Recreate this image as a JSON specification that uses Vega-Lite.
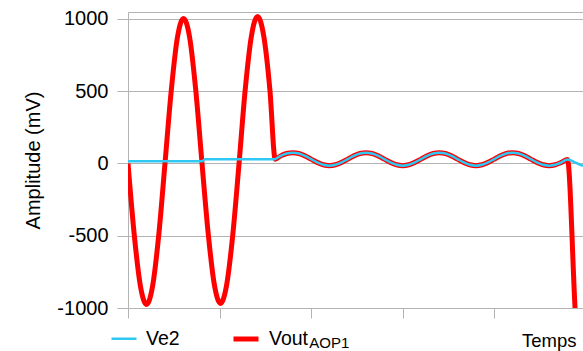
{
  "$schema": "https://vega.github.io/schema/vega-lite/v6.json",
  "width": 455,
  "height": 296,
  "autosize": {"type": "none"},
  "padding": {"left": 128, "top": 12, "right": 0, "bottom": 43},
  "background": "white",
  "config": {"view": {"stroke": null}, "font": "Liberation Sans"},
  "datasets": {
    "sig": [
      {"t": 0, "v": 0, "s": "Vout"}, {"t": 6.74, "v": -488, "s": "Vout"}, {"t": 13.48, "v": -845, "s": "Vout"}, {"t": 20.2, "v": -975, "s": "Vout"}, {"t": 26.95, "v": -845, "s": "Vout"}, {"t": 33.7, "v": -488, "s": "Vout"}, {"t": 40.4, "v": 0, "s": "Vout"}, {"t": 47.2, "v": 501, "s": "Vout"}, {"t": 53.9, "v": 869, "s": "Vout"}, {"t": 60.6, "v": 1003, "s": "Vout"}, {"t": 67.4, "v": 869, "s": "Vout"}, {"t": 74.1, "v": 501, "s": "Vout"}, {"t": 80.85, "v": 0, "s": "Vout"}, {"t": 87.6, "v": -484, "s": "Vout"}, {"t": 94.3, "v": -838, "s": "Vout"}, {"t": 101.1, "v": -968, "s": "Vout"}, {"t": 107.8, "v": -838, "s": "Vout"}, {"t": 114.6, "v": -484, "s": "Vout"}, {"t": 121.3, "v": 0, "s": "Vout"}, {"t": 128, "v": 508, "s": "Vout"}, {"t": 134.8, "v": 881, "s": "Vout"}, {"t": 141.5, "v": 1017, "s": "Vout"}, {"t": 148.3, "v": 881, "s": "Vout"}, {"t": 155, "v": 508, "s": "Vout"}, {"t": 160.8, "v": 30, "s": "Vout"},
      {"t": 166.67, "v": 52.5, "s": "Vout"}, {"t": 173.33, "v": 69, "s": "Vout"}, {"t": 180, "v": 75, "s": "Vout"}, {"t": 186.67, "v": 69, "s": "Vout"}, {"t": 193.33, "v": 52.5, "s": "Vout"}, {"t": 200, "v": 30, "s": "Vout"}, {"t": 206.67, "v": 7.5, "s": "Vout"}, {"t": 213.33, "v": -9, "s": "Vout"}, {"t": 220, "v": -15, "s": "Vout"}, {"t": 226.67, "v": -9, "s": "Vout"}, {"t": 233.33, "v": 7.5, "s": "Vout"},
      {"t": 240, "v": 30, "s": "Vout"}, {"t": 246.67, "v": 52.5, "s": "Vout"}, {"t": 253.33, "v": 69, "s": "Vout"}, {"t": 260, "v": 75, "s": "Vout"}, {"t": 266.67, "v": 69, "s": "Vout"}, {"t": 273.33, "v": 52.5, "s": "Vout"}, {"t": 280, "v": 30, "s": "Vout"}, {"t": 286.67, "v": 7.5, "s": "Vout"}, {"t": 293.33, "v": -9, "s": "Vout"}, {"t": 300, "v": -15, "s": "Vout"}, {"t": 306.67, "v": -9, "s": "Vout"}, {"t": 313.33, "v": 7.5, "s": "Vout"},
      {"t": 320, "v": 30, "s": "Vout"}, {"t": 326.67, "v": 52.5, "s": "Vout"}, {"t": 333.33, "v": 69, "s": "Vout"}, {"t": 340, "v": 75, "s": "Vout"}, {"t": 346.67, "v": 69, "s": "Vout"}, {"t": 353.33, "v": 52.5, "s": "Vout"}, {"t": 360, "v": 30, "s": "Vout"}, {"t": 366.67, "v": 7.5, "s": "Vout"}, {"t": 373.33, "v": -9, "s": "Vout"}, {"t": 380, "v": -15, "s": "Vout"}, {"t": 386.67, "v": -9, "s": "Vout"}, {"t": 393.33, "v": 7.5, "s": "Vout"},
      {"t": 400, "v": 30, "s": "Vout"}, {"t": 406.67, "v": 52.5, "s": "Vout"}, {"t": 413.33, "v": 69, "s": "Vout"}, {"t": 420, "v": 75, "s": "Vout"}, {"t": 426.67, "v": 69, "s": "Vout"}, {"t": 433.33, "v": 52.5, "s": "Vout"}, {"t": 440, "v": 30, "s": "Vout"}, {"t": 446.67, "v": 7.5, "s": "Vout"}, {"t": 453.33, "v": -9, "s": "Vout"}, {"t": 460, "v": -15, "s": "Vout"}, {"t": 466.67, "v": -9, "s": "Vout"}, {"t": 473.33, "v": 7.5, "s": "Vout"},
      {"t": 480, "v": 28, "s": "Vout"}, {"t": 488.3, "v": -1000, "s": "Vout"}, {"t": 490, "v": -1200, "s": "Vout"},
      {"t": 0, "v": 15, "s": "Ve2"}, {"t": 81, "v": 15, "s": "Ve2"}, {"t": 84, "v": 30, "s": "Ve2"}, {"t": 160, "v": 30, "s": "Ve2"},
      {"t": 166.67, "v": 52.5, "s": "Ve2"}, {"t": 173.33, "v": 69, "s": "Ve2"}, {"t": 180, "v": 75, "s": "Ve2"}, {"t": 186.67, "v": 69, "s": "Ve2"}, {"t": 193.33, "v": 52.5, "s": "Ve2"}, {"t": 200, "v": 30, "s": "Ve2"}, {"t": 206.67, "v": 7.5, "s": "Ve2"}, {"t": 213.33, "v": -9, "s": "Ve2"}, {"t": 220, "v": -15, "s": "Ve2"}, {"t": 226.67, "v": -9, "s": "Ve2"}, {"t": 233.33, "v": 7.5, "s": "Ve2"},
      {"t": 240, "v": 30, "s": "Ve2"}, {"t": 246.67, "v": 52.5, "s": "Ve2"}, {"t": 253.33, "v": 69, "s": "Ve2"}, {"t": 260, "v": 75, "s": "Ve2"}, {"t": 266.67, "v": 69, "s": "Ve2"}, {"t": 273.33, "v": 52.5, "s": "Ve2"}, {"t": 280, "v": 30, "s": "Ve2"}, {"t": 286.67, "v": 7.5, "s": "Ve2"}, {"t": 293.33, "v": -9, "s": "Ve2"}, {"t": 300, "v": -15, "s": "Ve2"}, {"t": 306.67, "v": -9, "s": "Ve2"}, {"t": 313.33, "v": 7.5, "s": "Ve2"},
      {"t": 320, "v": 30, "s": "Ve2"}, {"t": 326.67, "v": 52.5, "s": "Ve2"}, {"t": 333.33, "v": 69, "s": "Ve2"}, {"t": 340, "v": 75, "s": "Ve2"}, {"t": 346.67, "v": 69, "s": "Ve2"}, {"t": 353.33, "v": 52.5, "s": "Ve2"}, {"t": 360, "v": 30, "s": "Ve2"}, {"t": 366.67, "v": 7.5, "s": "Ve2"}, {"t": 373.33, "v": -9, "s": "Ve2"}, {"t": 380, "v": -15, "s": "Ve2"}, {"t": 386.67, "v": -9, "s": "Ve2"}, {"t": 393.33, "v": 7.5, "s": "Ve2"},
      {"t": 400, "v": 30, "s": "Ve2"}, {"t": 406.67, "v": 52.5, "s": "Ve2"}, {"t": 413.33, "v": 69, "s": "Ve2"}, {"t": 420, "v": 75, "s": "Ve2"}, {"t": 426.67, "v": 69, "s": "Ve2"}, {"t": 433.33, "v": 52.5, "s": "Ve2"}, {"t": 440, "v": 30, "s": "Ve2"}, {"t": 446.67, "v": 7.5, "s": "Ve2"}, {"t": 453.33, "v": -9, "s": "Ve2"}, {"t": 460, "v": -15, "s": "Ve2"}, {"t": 466.67, "v": -9, "s": "Ve2"}, {"t": 473.33, "v": 7.5, "s": "Ve2"},
      {"t": 480, "v": 28, "s": "Ve2"}, {"t": 485, "v": 17, "s": "Ve2"}, {"t": 490, "v": 2, "s": "Ve2"}, {"t": 497, "v": -17, "s": "Ve2"}
    ]
  },
  "data": {"name": "sig"},
  "layer": [
    {
      "transform": [{"filter": "datum.s === 'Vout'"}],
      "mark": {"type": "line", "clip": true, "interpolate": "monotone"},
      "encoding": {
        "x": {
          "field": "t",
          "type": "quantitative",
          "scale": {"domain": [0, 497], "nice": false, "zero": false},
          "axis": {
            "orient": "bottom",
            "values": [0, 100, 200, 300, 400],
            "labels": false,
            "grid": false,
            "tickSize": 10,
            "tickColor": "#b3b3b3",
            "domainColor": "#b3b3b3",
            "title": "Temps",
            "titleFontSize": 18.5,
            "titleFontWeight": "normal",
            "titleColor": "#000000",
            "titleAnchor": "end",
            "titleAlign": "right",
            "titleBaseline": "alphabetic",
            "titleX": 448,
            "titleY": 38
          }
        },
        "y": {
          "field": "v",
          "type": "quantitative",
          "scale": {"domain": [-1000, 1048], "nice": false, "zero": false},
          "axis": {
            "values": [-1000, -500, 0, 500, 1000],
            "labelExpr": "'' + datum.value",
            "title": "Amplitude (mV)",
            "titleFontSize": 20,
            "titleFontWeight": "normal",
            "titleColor": "#000000",
            "titlePadding": 13,
            "labelFontSize": 20,
            "labelColor": "#000000",
            "labelPadding": 9,
            "labelFlush": false,
            "tickSize": 11,
            "tickColor": "#b3b3b3",
            "domainColor": "#b3b3b3",
            "grid": true,
            "gridColor": "#b3b3b3"
          }
        },
        "color": {
          "field": "s",
          "type": "nominal",
          "scale": {"domain": ["Ve2", "Vout"], "range": ["#2ec8f2", "#ff0000"]},
          "legend": {
            "orient": "none",
            "legendX": -18,
            "legendY": 312,
            "direction": "horizontal",
            "title": null,
            "symbolType": "stroke",
            "symbolSize": 625,
            "labelFontSize": 19.5,
            "labelColor": "#000000",
            "labelOffset": 8,
            "columnPadding": 43,
            "padding": 0
          }
        },
        "strokeWidth": {
          "field": "s",
          "type": "nominal",
          "scale": {"domain": ["Ve2", "Vout"], "range": [2.5, 5]},
          "legend": {
            "orient": "none",
            "legendX": -18,
            "legendY": 312,
            "direction": "horizontal",
            "title": null,
            "symbolType": "stroke",
            "symbolSize": 625,
            "labelFontSize": 19.5,
            "labelColor": "#000000",
            "labelOffset": 8,
            "columnPadding": 43,
            "padding": 0
          }
        }
      }
    },
    {
      "transform": [{"filter": "datum.s === 'Ve2'"}],
      "mark": {"type": "line", "clip": true, "interpolate": "monotone"},
      "encoding": {
        "x": {
          "field": "t",
          "type": "quantitative",
          "axis": {
            "orient": "top",
            "labels": false,
            "ticks": false,
            "grid": false,
            "title": null,
            "domainColor": "#b3b3b3"
          }
        },
        "y": {"field": "v", "type": "quantitative"},
        "color": {"field": "s", "type": "nominal"},
        "strokeWidth": {"field": "s", "type": "nominal"}
      }
    },
    {
      "data": {"values": [{"label": "AOP1"}]},
      "mark": {"type": "text", "align": "left", "baseline": "alphabetic", "fontSize": 15, "fill": "#000000", "clip": false},
      "encoding": {
        "x": {"datum": 198, "axis": null},
        "y": {"datum": -1277},
        "text": {"field": "label", "type": "nominal"}
      }
    }
  ],
  "resolve": {"axis": {"x": "independent"}}
}
